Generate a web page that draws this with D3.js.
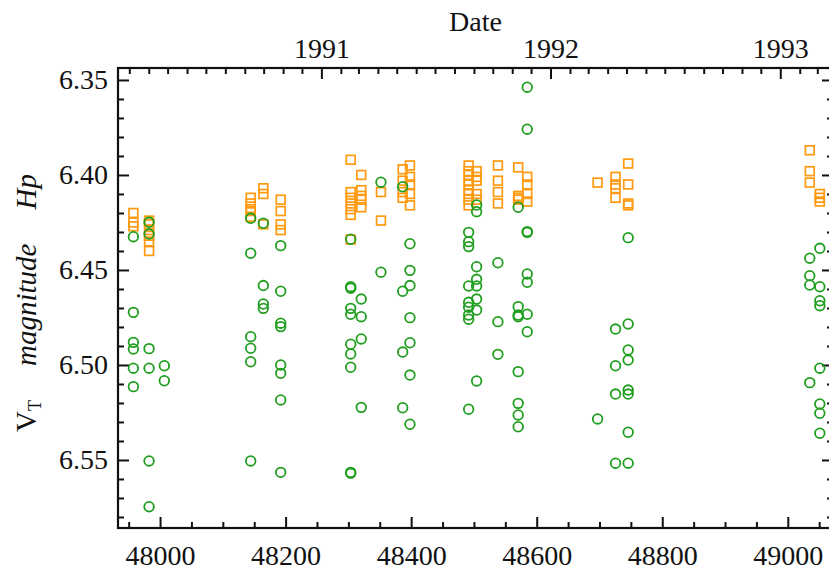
<!DOCTYPE html>
<html>
<head>
<meta charset="utf-8">
<script src="https://cdn.jsdelivr.net/npm/d3@7"></script>
<style>
  body { margin: 0; background: #fff; }
  svg { display: block; }
  svg text, .tick text { font-family: "Liberation Serif", "DejaVu Serif", serif; }
  .tick text { font-size: 28px; fill: #111; }
</style>
</head>
<body>
<script>
// Hp photometry (squares) : MJD and magnitude
var hpDate = [47957.5,47957.5,47957.5,
  47982.5,47982.5,47982.5,47982.5,47982.5,47982.5,
  48144.4,48144.4,48144.4,48144.4,48144.4,
  48164.5,48164.5,48164.5,
  48192.2,48192.2,48192.2,48192.2,
  48303.7,48303.7,48303.7,48303.7,48303.7,48303.7,48303.7,
  48320.5,48320.5,48320.5,48320.5,48320.5,
  48351.9,48351.9,
  48386.5,48386.5,48386.5,48386.5,
  48398.1,48398.1,48398.1,48398.1,48398.1,
  48491.6,48491.6,48491.6,48491.6,48491.6,48491.6,48491.6,48491.6,48491.6,
  48504.3,48504.3,48504.3,48504.3,48504.3,
  48538.2,48538.2,48538.2,48538.2,
  48570.5,48570.5,48570.5,48570.5,
  48584.9,48584.9,48584.9,48584.9,
  48697,
  48725.6,48725.6,48725.6,48725.6,
  48745.7,48745.7,48745.7,48745.7,
  49035,49035,49035,
  49051,49051,49051];
var hpMag = [6.420,6.425,6.427,
  6.424,6.426,6.429,6.432,6.435,6.440,
  6.412,6.415,6.418,6.419,6.422,
  6.407,6.410,6.426,
  6.413,6.419,6.426,6.429,
  6.392,6.409,6.412,6.415,6.418,6.421,6.434,
  6.400,6.408,6.411,6.413,6.417,
  6.409,6.424,
  6.397,6.403,6.409,6.412,
  6.395,6.401,6.405,6.410,6.416,
  6.395,6.398,6.400,6.403,6.405,6.408,6.410,6.413,6.416,
  6.398,6.401,6.403,6.410,6.413,
  6.395,6.403,6.409,6.415,
  6.396,6.411,6.412,6.413,
  6.401,6.405,6.410,6.414,
  6.404,
  6.401,6.405,6.407,6.412,
  6.394,6.405,6.415,6.416,
  6.387,6.398,6.404,
  6.410,6.412,6.414];

// V_T photometry (circles)
var vtDate = [47957.5,47957.5,47957.5,47957.5,47957.5,47957.5,
  47982.5,47982.5,47982.5,47982.5,47982.5,47982.5,
  48006.8,48006.8,
  48144.4,48144.4,48144.4,48144.4,48144.4,48144.4,
  48164.5,48164.5,48164.5,48164.5,
  48192.2,48192.2,48192.2,48192.2,48192.2,48192.2,48192.2,48192.2,
  48303.7,48303.7,48303.7,48303.7,48303.7,48303.7,48303.7,48303.7,48303.7,48303.7,
  48320.5,48320.5,48320.5,48320.5,
  48351.9,48351.9,
  48386.5,48386.5,48386.5,48386.5,
  48398.1,48398.1,48398.1,48398.1,48398.1,48398.1,48398.1,
  48491.6,48491.6,48491.6,48491.6,48491.6,48491.6,48491.6,48491.6,48491.6,
  48504.3,48504.3,48504.3,48504.3,48504.3,48504.3,48504.3,48504.3,
  48538.2,48538.2,48538.2,
  48570.5,48570.5,48570.5,48570.5,48570.5,48570.5,48570.5,48570.5,
  48584.9,48584.9,48584.9,48584.9,48584.9,48584.9,48584.9,48584.9,
  48697,
  48725.6,48725.6,48725.6,48725.6,
  48745.7,48745.7,48745.7,48745.7,48745.7,48745.7,48745.7,48745.7,
  49035,49035,49035,49035,
  49051,49051,49051,49051,49051,49051,49051,49051];
var vtMag = [6.4325,6.4723,6.4881,6.4916,6.5017,6.5114,
  6.4249,6.4311,6.4914,6.5017,6.5505,6.5746,
  6.5004,6.5083,
  6.4228,6.4412,6.4851,6.4912,6.4983,6.5505,
  6.4254,6.4582,6.4679,6.4702,
  6.4372,6.4612,6.4780,6.4798,6.5000,6.5044,6.5184,6.5565,
  6.4338,6.4588,6.4596,6.4702,6.4733,6.4891,6.4942,6.5012,6.5565,6.5570,
  6.4653,6.4746,6.4863,6.5223,
  6.4038,6.4512,
  6.4062,6.4612,6.4932,6.5225,
  6.4362,6.4502,6.4582,6.4751,6.4883,6.5053,6.5312,
  6.4302,6.4351,6.4377,6.4584,6.4670,6.4696,6.4737,6.4759,6.5233,
  6.4158,6.4193,6.4483,6.4549,6.4584,6.4653,6.4711,6.5084,
  6.4462,6.4772,6.4944,
  6.4170,6.4693,6.4737,6.4746,6.5035,6.5202,6.5263,6.5325,
  6.3538,6.3759,6.4298,6.4302,6.4521,6.4565,6.4733,6.4825,
  6.5284,
  6.4811,6.5004,6.5153,6.5517,
  6.4330,6.4784,6.4921,6.4974,6.5132,6.5153,6.5354,6.5517,
  6.4438,6.4530,6.4579,6.5093,
  6.4386,6.4588,6.4662,6.4688,6.5017,6.5205,6.5254,6.5359];

var mjdTicks = [48000, 48200, 48400, 48600, 48800, 49000];
var magTicks = [6.35, 6.40, 6.45, 6.50, 6.55];
var yearTicks = ["1991", "1992", "1993"];

var width = 829, height = 568;
var pLeft = 118, pRight = 833, pTop = 68, pBottom = 528;
var hpColor = "#ff9a10", vtColor = "#1f9e1f";
var serif = '"Liberation Serif", "DejaVu Serif", serif';

var svg = d3.select("body").append("svg")
    .attr("width", width)
    .attr("height", height);

// MJD on the bottom, magnitude (inverted) on the left
var x = d3.scaleLinear().domain([47933, 49072]).range([pLeft, pRight]);
var y = d3.scaleLinear().domain([6.3437, 6.5858]).range([pTop, pBottom]);

// calendar scale for the top axis, same pixels as the MJD one
var mjd0 = Date.UTC(1858, 10, 17);
function mjdToDate(m) { return new Date(mjd0 + m * 86400000); }
var xDate = d3.scaleUtc().domain(x.domain().map(mjdToDate)).range(x.range());

function styleAxis(g) {
  g.attr("font-family", null).attr("font-size", null);
  g.select(".domain").remove();
  g.selectAll(".tick line").attr("stroke", "#111").attr("stroke-width", 2);
  g.selectAll(".tick text").style("font-family", serif).style("font-size", "28px");
}

// bottom
var minorX = d3.range(47950, 49072, 50).filter(function(v){ return v % 200 != 0; });
svg.append("g").attr("transform", "translate(0," + pBottom + ")")
  .call(d3.axisBottom(x).tickValues(minorX).tickSize(-6).tickFormat(""))
  .call(styleAxis);
svg.append("g").attr("transform", "translate(0," + pBottom + ")")
  .call(d3.axisBottom(x).tickValues(mjdTicks).tickSize(-11).tickPadding(17).tickFormat(d3.format("d")))
  .call(styleAxis);

// left and right
var minorY = d3.range(6.35, 6.586, 0.01).map(function(v){ return +v.toFixed(2); })
  .filter(function(v){ return magTicks.indexOf(v) < 0; });
[[pLeft, d3.axisLeft], [pRight, d3.axisRight]].forEach(function(s, i) {
  svg.append("g").attr("transform", "translate(" + s[0] + ",0)")
    .call(s[1](y).tickValues(minorY).tickSize(-6).tickFormat(""))
    .call(styleAxis);
  svg.append("g").attr("transform", "translate(" + s[0] + ",0)")
    .call(s[1](y).tickValues(magTicks).tickSize(-11).tickPadding(10)
      .tickFormat(i == 0 ? d3.format(".2f") : ""))
    .call(styleAxis);
});

// top: months and years
var months = xDate.ticks(d3.utcMonth.every(1));
var years = yearTicks.map(function(t){ return new Date(Date.UTC(+t, 0, 1)); });
svg.append("g").attr("transform", "translate(0," + pTop + ")")
  .call(d3.axisTop(xDate).tickValues(months.filter(function(d){ return d.getUTCMonth() != 0; }))
    .tickSize(-6).tickFormat(""))
  .call(styleAxis);
svg.append("g").attr("transform", "translate(0," + pTop + ")")
  .call(d3.axisTop(xDate).tickValues(years).tickSize(-11).tickPadding(10)
    .tickFormat(d3.utcFormat("%Y")))
  .call(styleAxis);

// frame
svg.append("rect")
  .attr("x", pLeft).attr("y", pTop)
  .attr("width", pRight - pLeft).attr("height", pBottom - pTop)
  .attr("fill", "none").attr("stroke", "#111").attr("stroke-width", 2.2);

// axis titles
svg.append("text")
  .attr("x", (pLeft + pRight) / 2).attr("y", 31)
  .attr("text-anchor", "middle")
  .style("font-family", serif).style("font-size", "28px").attr("fill", "#111")
  .text("Date");

var yl = svg.append("text")
  .attr("transform", "translate(36," + ((pTop + pBottom) / 2 + 5) + ") rotate(-90)")
  .attr("text-anchor", "middle")
  .style("font-family", serif).style("font-size", "29px").attr("fill", "#111");
yl.append("tspan").text("V");
yl.append("tspan").attr("dy", 5).style("font-size", "18px").text("T");
yl.append("tspan").attr("dy", -5).attr("dx", 34).style("font-style", "italic").text("magnitude");
yl.append("tspan").attr("dx", 34).style("font-style", "italic").text("Hp");

// marks
var hp = d3.zip(hpDate, hpMag);
var vt = d3.zip(vtDate, vtMag);
var s = 8.8;
svg.append("g").selectAll("rect").data(hp).enter().append("rect")
  .attr("x", function(d){ return x(d[0]) - s / 2; })
  .attr("y", function(d){ return y(d[1]) - s / 2; })
  .attr("width", s).attr("height", s)
  .attr("fill", "none").attr("stroke", hpColor).attr("stroke-width", 1.7);

svg.append("g").selectAll("circle").data(vt).enter().append("circle")
  .attr("cx", function(d){ return x(d[0]); })
  .attr("cy", function(d){ return y(d[1]); })
  .attr("r", 4.8)
  .attr("fill", "none").attr("stroke", vtColor).attr("stroke-width", 1.8);
</script>
</body>
</html>
